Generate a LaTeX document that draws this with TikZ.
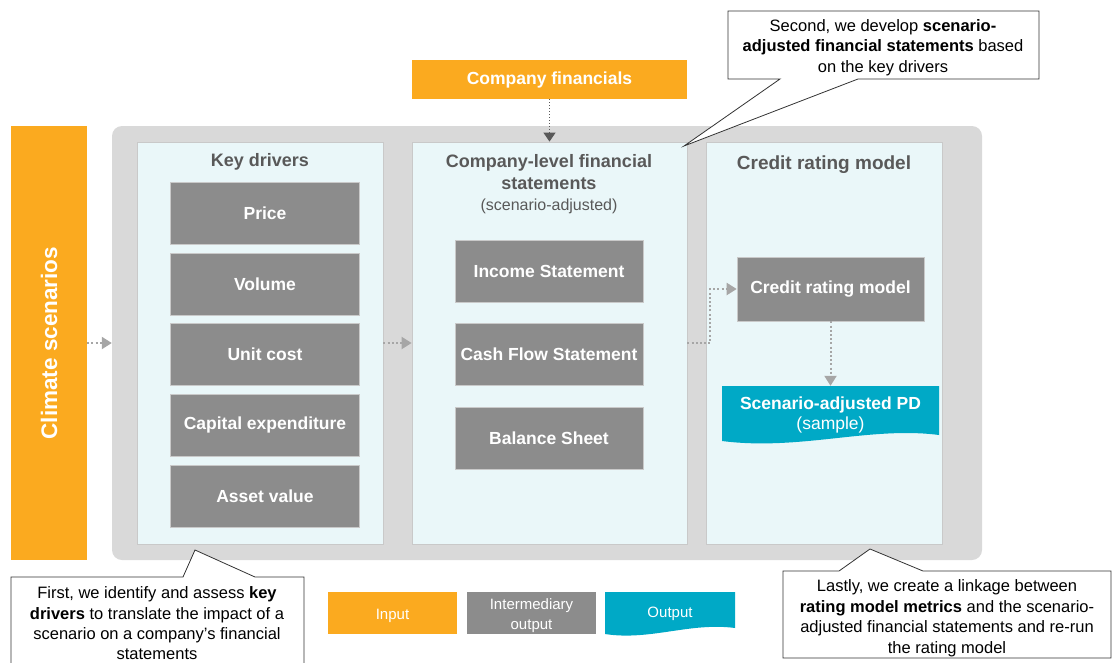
\documentclass[tikz,border=0pt]{standalone}
\usepackage{fontspec}
\setmainfont{Liberation Sans}
\usetikzlibrary{arrows.meta}
\definecolor{inorange}{HTML}{FBAA1F}
\definecolor{midgrey}{HTML}{8C8C8C}
\definecolor{bggrey}{HTML}{D9D9D9}
\definecolor{panelfill}{HTML}{EAF7F9}
\definecolor{paneledge}{HTML}{C9C9C9}
\definecolor{outteal}{HTML}{00A9C6}
\definecolor{titlegrey}{HTML}{595959}
\definecolor{arrowgrey}{HTML}{A6A6A6}
\begin{document}
\begin{tikzpicture}[
  x=1pt, y=-1pt,
  bgbox/.style={fill=bggrey, rounded corners=10pt, minimum width=870pt, minimum height=434pt, inner sep=0pt},
  panel/.style={fill=panelfill, draw=paneledge, line width=0.8pt, minimum height=402pt, inner sep=0pt},
  ptitle/.style={font=\fontsize{18}{21}\selectfont\bfseries, text=titlegrey, align=center},
  inbox/.style={fill=inorange, text=white, font=\fontsize{17.5}{20}\selectfont\bfseries, inner sep=0pt},
  grbox/.style={fill=midgrey, draw=paneledge, line width=0.6pt, text=white, font=\fontsize{17.5}{20}\selectfont\bfseries, minimum width=189pt, minimum height=62pt, inner sep=0pt},
  flow/.style={arrowgrey, line width=2pt, dash pattern=on 2pt off 2.2pt, -{Triangle[length=10pt,width=12pt]}},
  feed/.style={titlegrey, line width=1.2pt, dash pattern=on 1.2pt off 1.8pt, -{Triangle[length=9pt,width=12pt]}},
  note/.style={font=\fontsize{16.5}{20.5}\selectfont, align=center, inner sep=0pt},
  callout/.style={draw=black!80, fill=white, line width=0.8pt},
  legtext/.style={text=white, font=\fontsize{15}{20}\selectfont, align=center, inner sep=0pt},
  legbox/.style={minimum width=129pt, minimum height=42pt, inner sep=0pt},
]
\useasboundingbox (0,0) rectangle (1112,662);

% --- input and frame ---
\node[inbox, rotate=90, minimum width=434pt, minimum height=76pt, font=\fontsize{22.5}{24}\selectfont\bfseries] (clim) at (49,343) {Climate scenarios};
\node[bgbox] (bg) at (547,343) {};
\node[inbox, minimum width=275pt, minimum height=39pt] (cfin) at (549.5,79.5) {Company financials};

% --- panels ---
\node[panel, minimum width=246pt] (kd) at (260,343) {};
\node[panel, minimum width=275pt] (cf) at (549.5,343) {};
\node[panel, minimum width=236pt] (cr) at (824,343) {};

\node[ptitle] (kdt) at (260,162) {Key drivers};
\node[ptitle, font=\fontsize{18}{22}\selectfont\bfseries] (cft) at (549,172) {Company-level financial\\statements};
\node[ptitle, font=\fontsize{16}{19}\selectfont] (cfs) at (549,206) {(scenario-adjusted)};
\node[ptitle, font=\fontsize{19}{22}\selectfont\bfseries] (crt) at (824,165) {Credit rating model};

% --- key drivers ---
\node[grbox] (price) at (265,213) {Price};
\node[grbox] (vol) at (265,284) {Volume};
\node[grbox] (ucost) at (265,354) {Unit cost};
\node[grbox] (capex) at (265,425) {Capital expenditure};
\node[grbox] (asset) at (265,496) {Asset value};

% --- statements ---
\node[grbox, minimum width=188pt] (inc) at (549,271) {Income Statement};
\node[grbox, minimum width=188pt] (cash) at (549,354) {Cash Flow Statement};
\node[grbox, minimum width=188pt] (bal) at (549,438) {Balance Sheet};

% --- rating model and output ---
\node[grbox, minimum width=187pt, minimum height=64pt] (crm) at (830.5,289) {Credit rating model};
\fill[outteal] (722,386) -- (939,386) -- (939,435) .. controls (870,426) and (800,451) .. (722,441) -- cycle;
\node[text=white, align=center, inner sep=0pt, minimum width=217pt, minimum height=58pt, font=\fontsize{17.5}{20}\selectfont] (pd) at (830.5,415) {\textbf{Scenario-adjusted PD}\\(sample)};

% --- flows ---
\draw[flow] (clim) -- (bg);
\draw[flow] (kd) -- (cf);
\draw[feed] (cfin) -- (cf);
\draw[flow] (cf.east) -- ++(23,0) |- (crm.west);
\draw[flow] (crm) -- (pd);

% --- callouts ---
\filldraw[callout] (728,11) -- (1039,11) -- (1039,79) -- (858,79) -- (684,146) -- (780,79) -- (728,79) -- cycle;
\node[note] (n2) at (883,47.5) {Second, we develop \textbf{scenario-}\\\textbf{adjusted financial statements} based\\on the key drivers};

\filldraw[callout] (11,577) -- (183,577) -- (195,550) -- (255,577) -- (304,577) -- (304,668) -- (11,668) -- cycle;
\node[note, font=\fontsize{16.5}{20.3}\selectfont] (n1) at (157,623.5) {First, we identify and assess \textbf{key}\\\textbf{drivers} to translate the impact of a\\scenario on a company’s financial\\statements};

\filldraw[callout] (783,571) -- (839,571) -- (870,549) -- (923,571) -- (1111,571) -- (1111,658) -- (783,658) -- cycle;
\node[note] (n3) at (947,618) {Lastly, we create a linkage between\\\textbf{rating model metrics} and the scenario-\\adjusted financial statements and re-run\\the rating model};

% Legend
\node[legbox, fill=inorange, label={[legtext, yshift=-3pt]center:Input}] (legin) at (392.5,613) {};
\node[legbox, fill=midgrey, label={[legtext, yshift=-3pt]center:{Intermediary\\output}}] (legmid) at (531.5,613) {};
\fill[outteal] (605,592) -- (735,592) -- (735,628) .. controls (690,622) and (650,641) .. (605,634) -- cycle;
\node[legtext] (legout) at (670,613.5) {Output};

\end{tikzpicture}
\end{document}
